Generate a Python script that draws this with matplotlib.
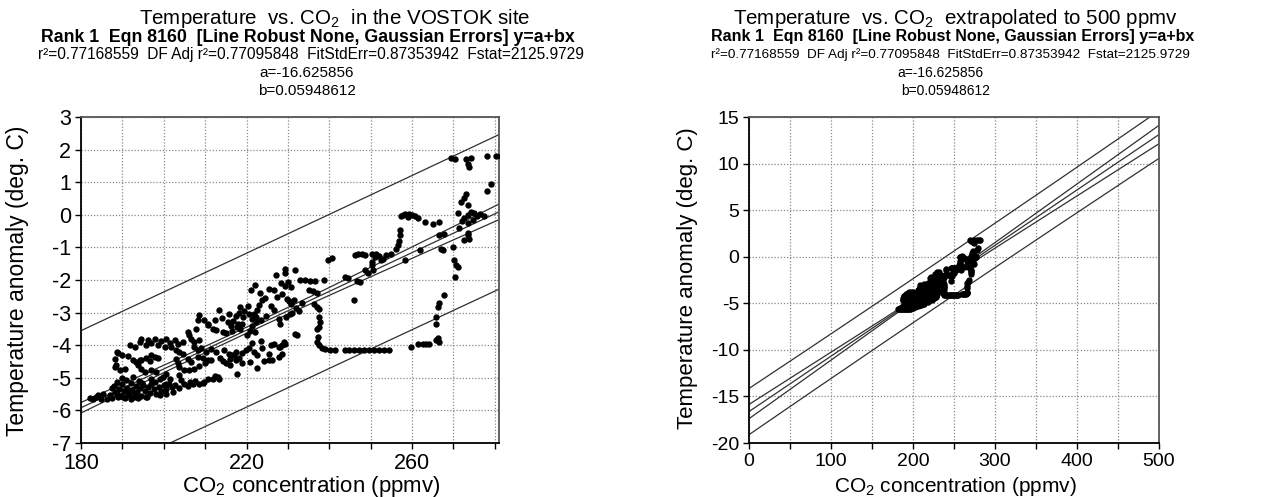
import numpy as np
import matplotlib
matplotlib.use("Agg")
import matplotlib.pyplot as plt

# Vostok points, grouped by region (CO2 ppmv, temp anomaly deg C)
glacial_band = [
    (182.2, -5.61), (182.8, -5.64), (183.6, -5.60), (184.2, -5.54), (184.8, -5.66), (185.4, -5.49), (186.2, -5.64), (187.0, -5.54), (187.6, -5.62), (188.2, -5.45),
    (188.0, -5.25), (188.8, -5.12), (189.2, -5.35), (189.6, -5.55), (190.0, -5.20), (190.4, -5.42), (190.8, -5.08), (191.2, -5.30), (191.6, -5.52), (192.0, -5.15),
    (192.4, -5.38), (192.8, -5.58), (193.2, -5.25), (193.6, -5.45), (194.0, -5.10), (194.2, -5.32), (194.6, -5.55), (195.0, -5.22), (195.4, -5.40), (195.8, -5.60),
    (196.2, -5.28), (196.6, -5.48), (197.0, -5.18), (197.6, -5.35), (198.2, -5.50), (198.8, -5.28), (199.4, -5.42), (200.0, -5.22), (200.6, -5.35), (201.2, -5.18),
    (189.0, -5.60), (190.6, -5.62), (192.2, -5.65), (193.8, -5.62), (196.0, -5.58), (191.0, -5.45), (189.8, -5.00), (192.6, -4.98), (199.0, -5.54), (200.6, -5.49),
    (202.2, -5.44), (202.0, -5.28), (202.8, -5.22), (203.6, -5.30), (204.2, -5.08), (205.0, -5.20), (205.8, -5.25), (206.4, -5.12), (207.0, -5.18), (207.6, -5.10),
    (208.4, -5.18), (209.4, -5.16), (209.8, -5.13), (210.6, -5.05), (211.8, -5.03), (212.4, -4.96), (213.0, -4.99), (213.4, -5.03), (203.8, -4.92), (200.6, -5.18),
    (199.8, -4.97), (200.6, -4.87), (198.2, -4.82), (197.0, -4.77), (195.4, -4.82), (194.6, -4.72), (193.8, -4.62), (190.6, -4.72), (189.4, -4.77), (188.2, -4.67),
    (187.4, -5.30), (188.6, -5.50), (190.2, -5.58), (191.8, -5.40), (193.0, -5.50), (194.8, -5.15), (196.8, -5.05), (198.0, -5.12), (199.2, -5.05), (201.6, -5.05),
]

glacial_upper = [
    (188.6, -4.21), (189.0, -4.25), (189.8, -4.31), (188.2, -4.41), (188.4, -4.60), (191.4, -4.34), (192.6, -4.45), (193.4, -4.51), (194.6, -4.45), (195.8, -4.40),
    (196.6, -4.48), (197.0, -4.31), (197.8, -4.35), (198.6, -4.38), (194.2, -4.46), (191.8, -4.00), (193.0, -4.05), (194.2, -3.90), (194.6, -3.80), (195.8, -4.00),
    (196.2, -3.85), (197.0, -3.92), (197.8, -3.82), (198.6, -4.00), (199.4, -3.88), (200.2, -4.05), (200.6, -3.80), (201.4, -3.92), (201.8, -4.05), (202.6, -3.85),
    (203.0, -4.16), (203.8, -4.21), (204.6, -4.26), (204.6, -3.90), (203.4, -3.95), (203.0, -4.41), (203.4, -4.55), (203.8, -4.67), (205.0, -4.77), (206.2, -4.77),
]

mid_cloud = [
    (205.8, -4.41), (206.6, -4.51), (207.4, -4.72), (208.2, -4.36), (208.4, -4.65), (209.4, -4.40), (210.0, -4.55), (210.6, -4.46), (211.4, -4.46), (212.6, -4.20),
    (213.6, -4.38), (214.4, -4.48), (215.0, -4.56), (216.0, -4.42), (217.0, -4.30), (217.4, -4.20), (217.8, -4.87), (207.4, -4.05), (208.2, -4.15), (209.0, -4.10),
    (210.2, -4.20), (211.4, -4.12), (206.6, -3.80), (207.4, -3.90), (208.6, -3.85), (205.8, -3.59), (206.2, -3.70), (207.8, -3.49), (208.2, -3.24), (208.6, -3.08),
    (209.8, -3.24), (210.6, -3.34), (210.6, -3.39), (211.8, -3.49), (212.6, -3.54), (212.4, -3.22), (213.4, -2.91), (214.0, -3.18), (214.2, -3.59), (215.0, -3.64),
    (215.4, -3.30), (216.2, -3.40), (216.8, -3.25), (217.4, -3.10), (217.6, -3.44), (215.8, -3.03), (216.6, -3.55), (218.0, -3.35), (218.5, -3.50), (219.0, -3.34),
    (220.0, -3.70), (219.2, -3.15), (218.2, -3.00), (220.6, -3.05), (221.8, -3.03), (222.4, -3.15), (223.4, -3.24), (224.6, -3.10), (221.2, -3.40), (222.0, -3.60),
    (218.4, -2.83), (219.4, -2.95), (220.4, -2.80), (221.4, -3.20), (222.4, -3.30), (220.8, -3.55),
]

mid_lower = [
    (214.6, -4.16), (215.8, -4.26), (216.6, -4.30), (217.4, -4.46), (218.2, -4.40), (219.0, -4.25), (219.8, -4.16), (220.6, -4.10), (221.2, -3.92), (221.8, -4.20),
    (222.6, -4.30), (223.4, -3.88), (223.8, -4.10), (222.6, -4.69), (224.2, -4.48), (225.4, -4.46), (226.2, -4.46), (225.4, -4.26), (225.8, -4.00), (226.6, -3.95),
    (227.8, -4.05), (228.2, -4.05), (228.6, -4.26), (227.8, -4.36), (228.6, -4.00), (229.4, -3.95), (229.0, -3.90), (218.8, -4.55), (220.8, -4.50), (216.0, -4.62),
]

warm_cloud = [
    (222.6, -2.93), (223.0, -2.78), (223.8, -2.62), (221.0, -2.30), (222.0, -2.15), (223.2, -2.40), (224.4, -2.55), (225.4, -2.27), (226.6, -2.32), (227.0, -1.86),
    (227.4, -2.52), (228.6, -2.42), (226.6, -2.93), (226.0, -2.80), (228.2, -3.34), (227.8, -3.20), (229.4, -1.65), (229.4, -1.78), (228.4, -2.10), (229.2, -2.18),
    (230.0, -2.05), (230.8, -2.20), (231.8, -1.68), (229.8, -2.57), (230.2, -2.65), (230.8, -2.75), (231.4, -2.60), (232.0, -2.85), (232.6, -2.95), (233.4, -2.70),
    (231.0, -3.00), (230.4, -3.05), (229.6, -3.15), (232.2, -3.70), (231.8, -3.65), (233.0, -2.00), (234.2, -2.00), (235.4, -2.02), (236.6, -2.03), (238.6, -2.00),
    (235.0, -2.30), (236.0, -2.35), (237.0, -2.40), (236.2, -2.73), (237.0, -2.83), (237.4, -2.88), (237.4, -3.13), (237.8, -3.30), (237.0, -3.49), (237.6, -3.45),
    (237.2, -3.75),
]

cold_row = [
    (237.0, -3.90), (237.6, -4.00), (238.2, -4.10), (239.0, -4.12), (240.2, -4.14), (241.4, -4.14), (243.8, -4.14), (244.8, -4.14), (246.0, -4.15), (247.2, -4.14),
    (248.4, -4.14), (249.6, -4.14), (250.8, -4.14), (252.0, -4.14), (253.2, -4.14), (254.5, -4.14), (259.8, -4.04), (261.4, -3.97), (262.6, -3.96), (263.4, -3.97),
    (264.2, -3.97), (265.8, -3.85), (266.4, -3.90), (266.2, -3.78), (265.8, -3.34), (265.8, -3.13), (266.2, -2.83), (266.6, -2.72), (267.8, -2.47),
]

upper_mid = [
    (239.8, -1.38), (240.6, -1.34), (243.8, -1.91), (244.6, -1.95), (245.9, -2.62), (246.2, -1.22), (247.0, -1.20), (247.8, -1.19), (248.6, -1.22), (250.2, -1.19),
    (250.2, -1.45), (250.4, -1.55), (248.6, -1.70), (249.4, -1.80), (250.6, -1.68), (247.4, -2.06), (246.8, -2.02), (251.0, -1.30), (252.0, -1.25), (253.0, -1.35),
    (252.4, -1.40), (251.2, -1.19), (253.8, -1.22), (254.8, -1.20), (256.1, -1.04), (256.5, -0.94), (256.8, -0.80), (257.0, -0.63), (257.0, -0.48), (257.2, -0.05),
    (257.8, 0.00), (258.4, 0.02), (259.2, 0.03), (260.0, 0.00), (260.6, -0.05), (261.4, -0.10), (259.0, -0.06), (263.0, -0.22), (265.0, -0.27), (266.6, -0.22),
    (258.2, -1.40), (261.8, -1.09), (267.4, -1.09), (267.0, -1.05), (269.8, -0.99), (266.6, -0.63),
]

interglacial = [
    (269.4, 1.75), (270.3, 1.72), (273.0, 1.72), (274.2, 1.75), (273.4, 1.57), (273.8, 1.47), (278.2, 1.79), (280.2, 1.79), (281.4, 1.79), (279.0, 0.96),
    (278.0, 0.73), (273.0, 0.65), (272.6, 0.50), (271.8, 0.39), (273.4, 0.29), (271.2, 0.05), (272.0, -0.20), (271.4, -0.42), (272.6, -0.10), (273.4, 0.00),
    (274.2, 0.10), (275.0, 0.05), (275.6, -0.05), (276.4, 0.02), (274.8, -0.15), (273.6, -0.25), (277.4, -0.05), (273.4, -0.63), (273.8, -0.73), (273.4, -0.55),
    (272.6, -0.78), (270.2, -1.40), (270.6, -1.55), (271.0, -1.60), (270.3, -1.90), (267.6, -0.58),
]

# fit statistics printed on the chart
a_fit = -16.625856
b_fit = 0.05948612
fit_std_err = 0.87353942
f_stat = 2125.9729
n_obs = 631
x_mean = 218.0
t_crit = 2.7

title_left = "Temperature  vs. CO$_2$  in the VOSTOK site"
title_right = "Temperature  vs. CO$_2$  extrapolated to 500 ppmv"
sub_line = "Rank 1  Eqn 8160  [Line Robust None, Gaussian Errors] y=a+bx"
stat_line = "r²=0.77168559  DF Adj r²=0.77095848  FitStdErr=0.87353942  Fstat=2125.9729"
a_line = "a=-16.625856"
b_line = "b=0.05948612"
x_label = "CO$_2$ concentration (ppmv)"
y_label = "Temperature anomaly (deg. C)"

plt.rcParams['font.family'] = ['Liberation Sans', 'DejaVu Sans']
plt.rcParams['mathtext.fontset'] = 'custom'
plt.rcParams['mathtext.rm'] = 'Liberation Sans'
plt.rcParams['mathtext.it'] = 'Liberation Sans:italic'
plt.rcParams['mathtext.bf'] = 'Liberation Sans:bold'

W, H = 1263, 497
pts = np.array(glacial_band + glacial_upper + mid_cloud + mid_lower + warm_cloud + cold_row + upper_mid + interglacial)
co2 = pts[:, 0]
temp = pts[:, 1]

se_b = b_fit / np.sqrt(f_stat)
sxx = (fit_std_err / se_b) ** 2


def ftext(x, y, s, **kw):
    return fig.text(x / W, 1 - y / H, s, ha='center', va='center', **kw)


def panel(rect, xlim, ylim, xticks, xtl, yticks, fs):
    ax = fig.add_axes([rect[0] / W, 1 - rect[3] / H, (rect[2] - rect[0]) / W, (rect[3] - rect[1]) / H])
    ax.set_xlim(*xlim)
    ax.set_ylim(*ylim)
    ax.set_xticks(xticks)
    ax.set_xticklabels(xtl)
    ax.set_yticks(yticks)
    ax.set_yticklabels([str(v) for v in yticks])
    ax.tick_params(direction='out', length=4, width=1, labelsize=fs, pad=3, colors='black')
    ax.grid(True, color='#8a8a8a', linestyle=(0, (1, 1.5)), linewidth=0.9)
    ax.set_axisbelow(True)
    for side in ['left', 'bottom']:
        ax.spines[side].set_color('black')
        ax.spines[side].set_linewidth(1.3)
    for side in ['top', 'right']:
        ax.spines[side].set_color('#555555')
        ax.spines[side].set_linewidth(1.3)

    xs = np.linspace(xlim[0], xlim[1], 300)
    yc = a_fit + b_fit * xs
    lev = 1.0 / n_obs + (xs - x_mean) ** 2 / sxx
    conf = t_crit * fit_std_err * np.sqrt(lev)
    pred = t_crit * fit_std_err * np.sqrt(1 + lev)
    for curve in [yc, yc + conf, yc - conf, yc + pred, yc - pred]:
        ax.plot(xs, curve, color='#303030', linewidth=0.9, zorder=2)

    ax.scatter(co2, temp, s=21, c='black', linewidths=0, zorder=3)
    return ax


fig = plt.figure(figsize=(W / 100, H / 100), dpi=100)

# left panel: data range
lx = list(range(180, 290, 10))
panel((81, 117, 499, 443), (180, 281), (-7, 3), lx,
      [str(v) if (v - 180) % 40 == 0 else '' for v in lx], list(range(-7, 4)), 15.5)
ftext(335, 19, title_left, fontsize=14.8)
ftext(308, 37, sub_line, fontsize=12.8, fontweight='bold')
ftext(311, 55, stat_line, fontsize=11.2)
ftext(307, 73, a_line, fontsize=11)
ftext(307, 91, b_line, fontsize=11)
fig.text(311 / W, 1 - 474 / H, x_label, ha='center', va='top', fontsize=16)
ftext(18, 281, y_label, rotation=90, fontsize=16.5)

# right panel: extrapolated to 500 ppmv
rx = list(range(0, 550, 50))
panel((749, 117, 1159, 443), (0, 500), (-20, 15), rx,
      [str(v) if v % 100 == 0 else '' for v in rx], list(range(-20, 20, 5)), 14)
ftext(955, 19, title_right, fontsize=14.8)
ftext(953, 37, sub_line, fontsize=11.5, fontweight='bold')
ftext(950, 55, stat_line, fontsize=9.7)
ftext(940, 73, a_line, fontsize=10)
ftext(946, 91, b_line, fontsize=10)
fig.text(955 / W, 1 - 475 / H, x_label, ha='center', va='top', fontsize=15)
ftext(688, 278, y_label, rotation=90, fontsize=16)

fig.savefig("out.png", dpi=100)
